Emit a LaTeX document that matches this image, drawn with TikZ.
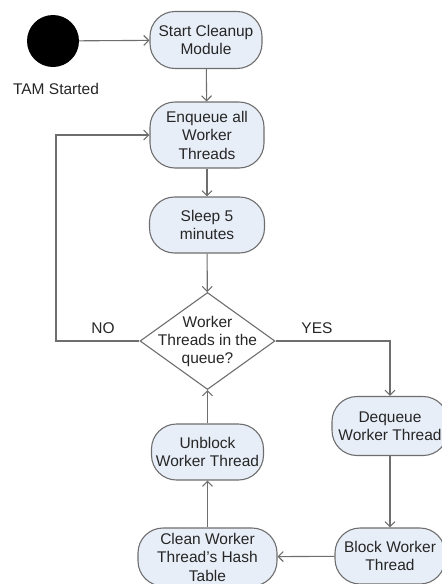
\documentclass[tikz,border=0pt]{standalone}
\usepackage{fontspec}
\setmainfont{Liberation Sans}
\usetikzlibrary{shapes,arrows,arrows.meta}
\usetikzlibrary{calc}
\definecolor{actfill}{HTML}{E8EEF8}
\definecolor{lineg}{HTML}{6E6E6E}
\definecolor{txtg}{HTML}{262626}
\tikzset{
    act/.style={draw=lineg, line width=1.1pt, fill=actfill, rectangle, rounded corners=25pt,
        inner sep=0pt, align=center, text=txtg, font=\fontsize{15.5}{18.5}\selectfont},
    decision/.style={draw=lineg, line width=1.1pt, fill=white, diamond,
        inner sep=0pt, minimum width=135pt, minimum height=97pt},
    declabel/.style={align=center, text=txtg, font=\fontsize{15.5}{18}\selectfont},
    vtip/.tip={Straight Barb[length=5pt,width=10pt]},
    flow/.style={draw=lineg, line width=1.1pt, sharp corners, miter limit=2, -vtip}}

\begin{document}
\begin{tikzpicture}[x=1pt,y=-1pt]
\useasboundingbox (0,0) rectangle (442,584);
\tikzstyle{startpt}=[circle,fill=black,inner sep=0pt,minimum size=52pt]
\tikzstyle{plain}=[text=txtg,font=\fontsize{15.5}{18}\selectfont]
    \node (tam)[startpt] at (53,41) {};
    \node (tamlbl)[plain] at (56,89) {TAM Started};

    \node (start)[act,minimum width=112pt,minimum height=57pt] at (206,40) {Start Cleanup\\Module};
    \node (enq)[act,minimum width=114pt,minimum height=66pt] at (207,135) {Enqueue all\\Worker\\Threads};
    \node (sleep)[act,minimum width=115pt,minimum height=56pt] at (207,225) {Sleep 5\\minutes};
    \node (dec)[decision,label={[declabel]center:Worker\\Threads in the\\queue?}] at (207.5,341) {};
    \node (deq)[act,minimum width=116pt,minimum height=59pt] at (390,426) {Dequeue\\Worker Thread};
    \node (blk)[act,minimum width=110pt,minimum height=56pt] at (390,556) {Block Worker\\Thread};
    \node (clean)[act,minimum width=139pt,minimum height=58pt] at (207.5,557) {Clean Worker\\Thread's Hash\\Table};
    \node (unblk)[act,minimum width=112pt,minimum height=56pt] at (207.5,452) {Unblock\\Worker Thread};

    \node (no)[plain] at (103,328) {NO};
    \node (yes)[plain] at (317,328) {YES};

    \coordinate (noturn) at (56,341);

    \draw[flow] (tam) -- (start);
    \draw[flow] (start) -- (enq);
    \draw[flow] (enq) -- (sleep);
    \draw[flow] (sleep) -- (dec);
    \draw[flow] (dec.west) -- (noturn) |- (enq.west);
    \draw[flow] (dec.east) -| (deq.north);
    \draw[flow] (deq) -- (blk);
    \draw[flow] (blk) -- (clean);
    \draw[flow] (clean) -- (unblk);
    \draw[flow] (unblk) -- (dec.south);
\end{tikzpicture}
\end{document}
